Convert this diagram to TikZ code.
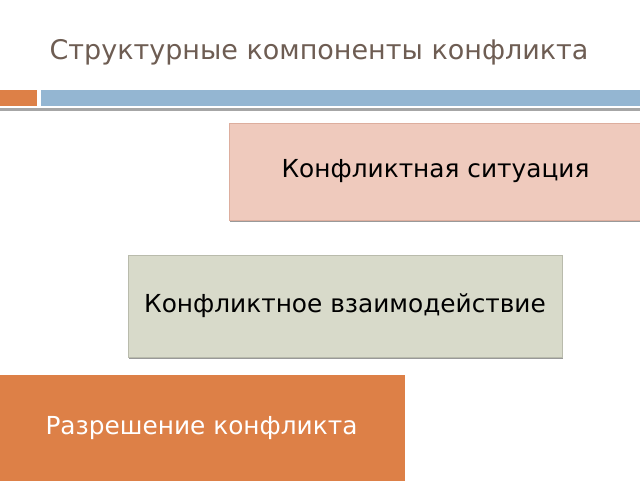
\documentclass[tikz,border=0pt]{standalone}
\usepackage{fontspec}
\setmainfont{DejaVu Sans}
\usetikzlibrary{shadows}
\definecolor{titlebrown}{HTML}{6E5D53}
\definecolor{barorange}{HTML}{DD8047}
\definecolor{barblue}{HTML}{94B6D2}
\definecolor{pinkfill}{HTML}{EFCABD}
\definecolor{pinkline}{HTML}{DDAE9E}
\definecolor{greyfill}{HTML}{D8DACA}
\definecolor{greyline}{HTML}{B9BBAC}
\begin{document}
\begin{tikzpicture}[x=1pt, y=-1pt,
	part/.style={rectangle, inner sep=0pt, font=\fontsize{24.8}{28}\selectfont,
		drop shadow={shadow xshift=1pt, shadow yshift=-2pt, fill=black!40, opacity=1}}]
	\useasboundingbox (0,0) rectangle (640,480);
	\fill[white] (0,0) rectangle (640,480);
	\node[text=titlebrown, font=\fontsize{27}{32}\selectfont] (title) at (319,52) {Структурные компоненты конфликта};
	\fill[barorange] (0,90) rectangle (37,106);
	\fill[barblue] (41,90) rectangle (640,106);
	\fill[black!35] (0,108) rectangle (640,110.5);
		\node[part, fill=pinkfill, draw=pinkline, minimum width=413pt, minimum height=97pt] (situation) at (435.5,171.5) {Конфликтная ситуация};
		\node[part, fill=greyfill, draw=greyline, minimum width=434pt, minimum height=102pt] (interaction) at (345,306) {Конфликтное взаимодействие};
		\node[part, fill=barorange, draw=barorange, text=white, minimum width=405pt, minimum height=107pt, drop shadow={opacity=0}] (resolution) at (201.5,428.5) {Разрешение конфликта};
\end{tikzpicture}
\end{document}
